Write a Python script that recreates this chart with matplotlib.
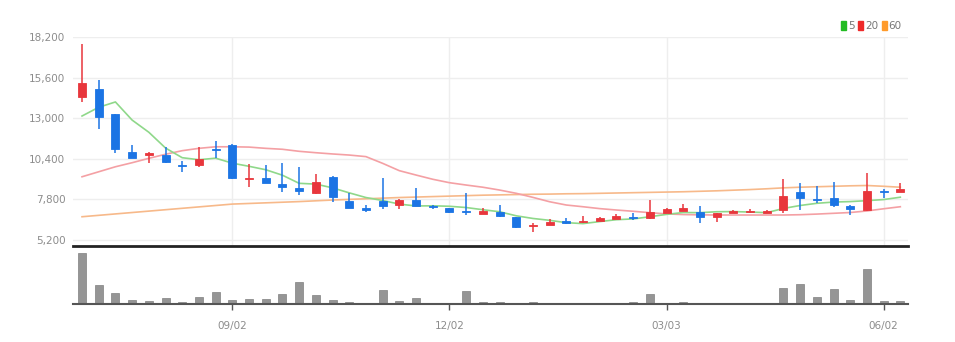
import numpy as np
import matplotlib
matplotlib.use("Agg")
import matplotlib.pyplot as plt
from matplotlib.patches import Patch

plt.rcParams['font.family'] = ['Liberation Sans Narrow', 'DejaVu Sans']

# ---------------- data ----------------
tick_idx = [9, 22, 35, 48]
tick_labels = ['09/02', '12/02', '03/03', '06/02']

opens = [14340, 14850, 13270, 10820, 10620, 10640, 10020, 9980, 11050, 11300,
         9090, 9190, 8790, 8510, 8230, 9250, 7720, 7270, 7720, 7440,
         7760, 7400, 7230, 7060, 6880, 7010, 6690, 6080, 6180, 6400,
         6330, 6420, 6560, 6690, 6590, 6910, 7060, 7010, 6650, 6950,
         6970, 6950, 7120, 8290, 7850, 7910, 7400, 7120, 8340, 8260]
highs = [17750, 15450, 13300, 11280, 10860, 11180, 10260, 11140, 11540, 11350,
         10070, 10000, 10110, 9890, 9430, 9300, 8190, 7440, 9190, 7830,
         8510, 7410, 7250, 8190, 7230, 7440, 6700, 6310, 6530, 6630,
         6740, 6650, 6870, 6910, 7760, 7270, 7510, 7400, 6960, 7120,
         7190, 7120, 9090, 8830, 8680, 8930, 7420, 9510, 8450, 8830]
lows = [14060, 12290, 10790, 10420, 10110, 10150, 9570, 9860, 10430, 9130,
        8580, 8850, 8290, 8080, 8150, 7650, 7250, 7010, 7190, 7170,
        7360, 7190, 6910, 6800, 6870, 6700, 5950, 5710, 6170, 6220,
        6310, 6400, 6550, 6480, 6530, 6900, 7050, 6270, 6370, 6940,
        6910, 6910, 6950, 7120, 7590, 7290, 6800, 7060, 7870, 8250]
closes = [15270, 13060, 11010, 10430, 10750, 10210, 9940, 10370, 10940, 9150,
          9190, 8870, 8580, 8360, 8900, 7970, 7270, 7120, 7380, 7760,
          7380, 7290, 7010, 6970, 7060, 6720, 6010, 6140, 6370, 6310,
          6440, 6630, 6740, 6630, 7010, 7190, 7230, 6690, 6950, 7040,
          7040, 7040, 8020, 7910, 7760, 7440, 7190, 8320, 8260, 8490]
volumes = [5070000, 1900000, 1070000, 400000, 330000, 570000, 230000, 670000, 1170000, 400000,
           500000, 500000, 1030000, 2230000, 900000, 370000, 200000, 100000, 1370000, 270000,
           570000, 100000, 100000, 1300000, 170000, 230000, 100000, 170000, 100000, 100000,
           100000, 100000, 100000, 170000, 1000000, 70000, 200000, 100000, 100000, 100000,
           100000, 100000, 1570000, 1970000, 670000, 1500000, 370000, 3500000, 270000, 270000]
ma5 = [13140, 13700, 14040, 12880, 12100, 11090, 10470, 10340, 10440, 10120,
       9920, 9700, 9350, 8830, 8780, 8540, 8220, 7920, 7730, 7500,
       7380, 7390, 7360, 7280, 7140, 7010, 6750, 6580, 6460, 6310,
       6250, 6380, 6500, 6550, 6690, 6840, 6960, 6950, 7010, 7020,
       6990, 6950, 7220, 7410, 7550, 7630, 7660, 7720, 7790, 7940]
ma20 = [9250, 9570, 9890, 10150, 10430, 10690, 10920, 11070, 11170, 11170,
        11150, 11070, 11010, 10880, 10790, 10710, 10640, 10540, 10110, 9640,
        9360, 9090, 8870, 8720, 8580, 8400, 8190, 7930, 7650, 7440,
        7330, 7210, 7120, 7040, 6950, 6870, 6830, 6810, 6800, 6800,
        6800, 6800, 6800, 6820, 6860, 6910, 6960, 7060, 7200, 7330]
ma60 = [6690, 6780, 6870, 6960, 7050, 7140, 7230, 7320, 7410, 7500,
        7540, 7580, 7620, 7660, 7710, 7760, 7800, 7840, 7880, 7920,
        7950, 7980, 8010, 8040, 8070, 8090, 8110, 8130, 8140, 8160,
        8170, 8190, 8210, 8230, 8250, 8270, 8290, 8320, 8350, 8390,
        8430, 8480, 8540, 8580, 8610, 8640, 8670, 8690, 8640, 8580]
y_ticks = [5200, 7800, 10400, 13000, 15600, 18200]

# ---------------- figure ----------------
W, H = 955, 342
fig = plt.figure(figsize=(W / 100, H / 100), dpi=100)
L, R = 73 / W, 908 / W
ax = fig.add_axes([L, (H - 246) / H, R - L, (246 - 37) / H])
axv = fig.add_axes([L, (H - 304) / H, R - L, 54 / H])

n = len(closes)
x = np.arange(n)
o = np.array(opens); c = np.array(closes); hi = np.array(highs); lo = np.array(lows)
up = c >= o
RED, BLUE = '#e8363c', '#1b74e4'
cols = np.where(up, RED, BLUE)
TXT = '#8c8c8c'

for a in (ax, axv):
    a.set_xlim(-0.54, n - 0.54)
    for s in a.spines.values():
        s.set_visible(False)

ax.set_ylim(4816, 18200)
ax.set_yticks(y_ticks)
ax.set_yticklabels([f'{v:,}' for v in y_ticks])
ax.set_xticks(tick_idx)
ax.tick_params(axis='x', bottom=False, labelbottom=False)
ax.tick_params(axis='y', left=False, labelsize=7.5, labelcolor=TXT, pad=2)
ax.grid(True, color='#eeeeee', linewidth=1)
ax.set_axisbelow(True)
ax.spines['bottom'].set_visible(True)
ax.spines['bottom'].set_linewidth(2)
ax.spines['bottom'].set_color('#222222')

ax.plot(x, ma60, color='#f7b98a', lw=1.2, zorder=2)
ax.plot(x, ma20, color='#f4a0a4', lw=1.2, zorder=2)
ax.plot(x, ma5, color='#8fd88a', lw=1.2, zorder=2)

ax.vlines(x, lo, hi, colors=cols, linewidth=1.1, zorder=3)
body_h = np.maximum(np.abs(c - o), 40)
ax.bar(x, body_h, bottom=np.minimum(o, c), width=0.48, color=cols,
       edgecolor=cols, linewidth=0.6, zorder=4)

# volume
axv.set_ylim(0, 5400000)
axv.bar(x, volumes, width=0.48, color='#959595', edgecolor='#808080', linewidth=0.5)
axv.spines['bottom'].set_visible(True)
axv.spines['bottom'].set_color('#555555')
axv.spines['bottom'].set_linewidth(1.5)
axv.set_yticks([])
axv.set_xticks(tick_idx)
axv.set_xticklabels(tick_labels)
axv.tick_params(axis='x', length=4, width=1, color='#555555', labelsize=7.5,
                labelcolor=TXT, pad=8)

# legend
handles = [Patch(color='#22bb22', label='5'),
           Patch(color='#ee2a2a', label='20'),
           Patch(color='#ff9a2a', label='60')]
leg = fig.legend(handles=handles, loc='upper right', ncol=3, frameon=False,
                 bbox_to_anchor=(907 / W, (H - 16) / H), fontsize=7.5,
                 handlelength=0.45, handleheight=0.9, handletextpad=0.2,
                 columnspacing=0.35, borderpad=0)
for t in leg.get_texts():
    t.set_color('#777777')

fig.savefig('out.png', dpi=100)
